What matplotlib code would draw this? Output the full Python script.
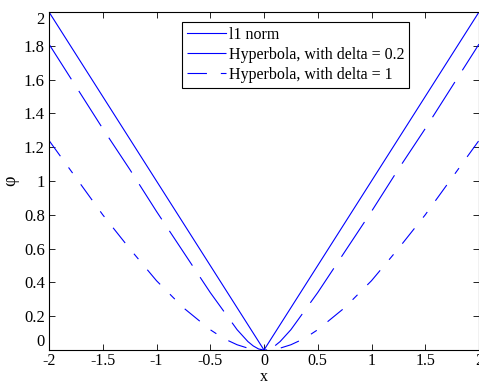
import numpy as np
import matplotlib.pyplot as plt

# values
x_vals = [-2.0, -1.75, -1.5, -1.25, -1.0, -0.75, -0.5, -0.375, -0.25, -0.15, -0.1, -0.05, 0.0,
          0.05, 0.1, 0.15, 0.25, 0.375, 0.5, 0.75, 1.0, 1.25, 1.5, 1.75, 2.0]
l1_norm = [2.0, 1.75, 1.5, 1.25, 1.0, 0.75, 0.5, 0.375, 0.25, 0.15, 0.1, 0.05, 0.0,
           0.05, 0.1, 0.15, 0.25, 0.375, 0.5, 0.75, 1.0, 1.25, 1.5, 1.75, 2.0]
hyp_02 = [1.81, 1.56, 1.31, 1.07, 0.82, 0.58, 0.34, 0.23, 0.12, 0.05, 0.024, 0.006, 0.0,
          0.006, 0.024, 0.05, 0.12, 0.23, 0.34, 0.58, 0.82, 1.07, 1.31, 1.56, 1.81]
hyp_1 = [1.24, 1.02, 0.80, 0.60, 0.41, 0.25, 0.12, 0.068, 0.031, 0.011, 0.005, 0.001, 0.0,
         0.001, 0.005, 0.011, 0.031, 0.068, 0.12, 0.25, 0.41, 0.60, 0.80, 1.02, 1.24]
labels = ['l1 norm', 'Hyperbola, with delta = 0.2', 'Hyperbola, with delta = 1']

plt.rcParams['font.family'] = ['Liberation Serif', 'DejaVu Serif']
plt.rcParams['lines.scale_dashes'] = False

fig = plt.figure(figsize=(4.79, 3.86), dpi=100)
ax = fig.add_axes([49 / 479, 36 / 386, 430 / 479, 338 / 386])

blue = (0, 0, 1)
ax.plot(x_vals, l1_norm, color=blue, lw=0.8, label=labels[0])
ax.plot(x_vals, hyp_02, color=blue, lw=0.8, dashes=(30, 10), label=labels[1])
ax.plot(x_vals, hyp_1, color=blue, lw=0.8, dashes=(14, 10, 5, 10), label=labels[2])

ax.set_xlim(-2, 2)
ax.set_ylim(0, 2)
xt = np.arange(-2, 2.01, 0.5)
yt = np.arange(0, 2.01, 0.2)
ax.set_xticks(xt)
ax.set_xticklabels(['%g' % v if abs(v) > 1e-9 else '0' for v in xt])
ax.set_yticks(yt)
ax.set_yticklabels(['%g' % round(v, 1) for v in yt])
ax.tick_params(direction='in', top=True, right=True, length=4, width=0.6, labelsize=12)
ax.tick_params(axis='y', pad=3)
ax.tick_params(axis='x', pad=2.5, labelsize=11.5)
# matlab keeps the end labels inside the axis height
ylabs = ax.get_yticklabels()
ylabs[0].set_va('bottom')
ylabs[-1].set_va('top')
for s in ax.spines.values():
    s.set_linewidth(0.8)

ax.set_xlabel('x', fontsize=11.5, labelpad=0)
ax.set_ylabel('φ', fontsize=13, labelpad=3)

leg = ax.legend(loc='upper left', bbox_to_anchor=(133 / 430, 1 - 10 / 338), fontsize=11.5,
                frameon=True, fancybox=False, edgecolor='black', framealpha=1,
                handlelength=2.45, handletextpad=0.2, borderpad=0.3, labelspacing=0.25,
                borderaxespad=0)
leg.get_frame().set_linewidth(0.8)

fig.savefig('out.png', dpi=100)
